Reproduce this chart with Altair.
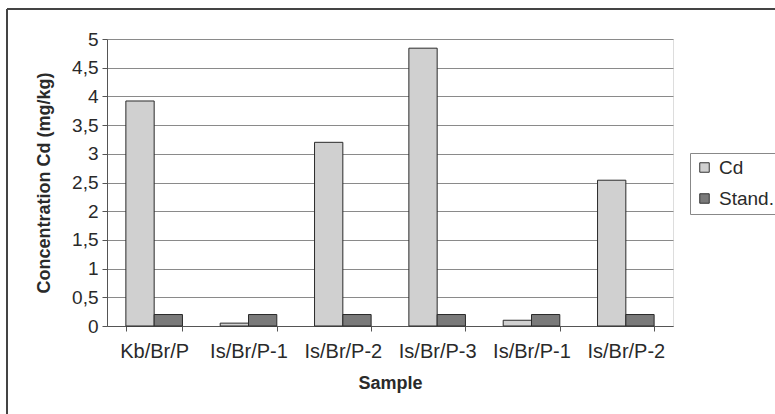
import json
import altair as alt
import pandas as pd

# Sample codes along the x axis (two codes are measured twice)
samples = ["Kb/Br/P", "Is/Br/P-1", "Is/Br/P-2", "Is/Br/P-3", "Is/Br/P-1", "Is/Br/P-2"]
# Measured cadmium concentration (mg/kg)
cd_values = [3.92, 0.05, 3.2, 4.84, 0.1, 2.54]
# Regulatory standard (mg/kg)
stand_values = [0.2, 0.2, 0.2, 0.2, 0.2, 0.2]
series_names = ["Cd", "Stand."]
series_colors = ["#d0d0d0", "#7a7a7a"]

rows = []
for i, s in enumerate(samples):
    rows.append({"idx": i, "sample": s, "series": "Cd", "value": cd_values[i]})
    rows.append({"idx": i, "sample": s, "series": "Stand.", "value": stand_values[i]})
df = pd.DataFrame(rows)

FONT = "Liberation Sans"
label_lookup = json.dumps(samples)

bars = alt.Chart(df).mark_bar(stroke="#2a2a2a", strokeWidth=1).encode(
    x=alt.X(
        "idx:O",
        title="Sample",
        scale=alt.Scale(paddingInner=0.4, paddingOuter=0.2),
        axis=alt.Axis(
            labelExpr=f"{label_lookup}[datum.value]",
            labelAngle=0,
            labelFontSize=20,
            labelColor="#2a2a2a",
            labelPadding=10,
            tickBand="extent",
            tickSize=5,
            tickColor="#555",
            domainColor="#555",
            titleFontSize=18,
            titleFontWeight="bold",
            titleColor="#2a2a2a",
            titlePadding=13,
        ),
    ),
    xOffset=alt.XOffset("series:N", sort=series_names, scale=alt.Scale(paddingInner=0)),
    y=alt.Y(
        "value:Q",
        title="Concentration Cd (mg/kg)",
        scale=alt.Scale(domain=[0, 5], nice=False),
        axis=alt.Axis(
            values=[0, 0.5, 1, 1.5, 2, 2.5, 3, 3.5, 4, 4.5, 5],
            labelExpr="replace(toString(datum.value), '.', ',')",
            labelFontSize=19,
            labelColor="#2a2a2a",
            labelPadding=4,
            tickSize=5,
            tickColor="#555",
            domainColor="#555",
            gridColor="#8a8a8a",
            titleFontSize=18,
            titleFontWeight="bold",
            titleColor="#2a2a2a",
            titlePadding=18,
        ),
    ),
    color=alt.Color(
        "series:N",
        sort=series_names,
        scale=alt.Scale(domain=series_names, range=series_colors),
        legend=alt.Legend(
            title=None,
            orient="none",
            legendX=583,
            legendY=114,
            symbolType="square",
            symbolSize=90,
            symbolStrokeColor="#333",
            symbolStrokeWidth=1,
            labelFontSize=19,
            labelColor="#2a2a2a",
            labelFont=FONT,
            labelOffset=5,
            rowPadding=11,
            padding=5,
            strokeColor="#888",
            fillColor="white",
        ),
    ),
)

# Outer chart frame (left and top edges)
frame_data = alt.Data(values=[{}])
frame_left = alt.Chart(frame_data).mark_rule(color="#444", strokeWidth=2, clip=False).encode(
    x=alt.value(-100), y=alt.value(-30), y2=alt.value(400)
)
frame_top = alt.Chart(frame_data).mark_rule(color="#444", strokeWidth=2, clip=False).encode(
    x=alt.value(-100), x2=alt.value(700), y=alt.value(-30)
)

chart = alt.layer(bars, frame_left, frame_top).properties(
    width=566,
    height=287,
    autosize=alt.AutoSizeParams(type="none"),
    padding={"left": 107, "top": 39, "right": 102, "bottom": 88},
    background="white",
).configure_view(stroke="#888").configure(font=FONT)

chart.save("out.html", embed_options={"renderer": "svg", "actions": False})
